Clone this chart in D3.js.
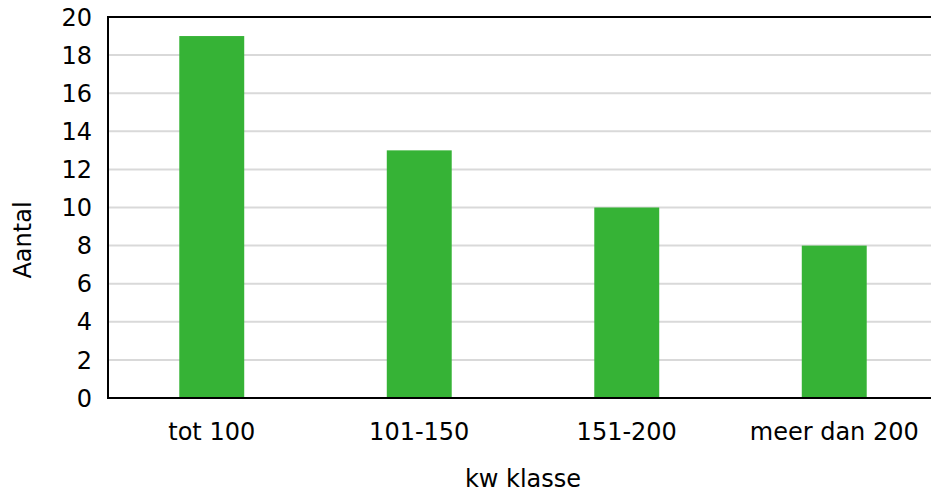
<!DOCTYPE html>
<html>
<head>
<meta charset="utf-8">
<script src="https://cdn.jsdelivr.net/npm/d3@7"></script>
<style>
  body { margin: 0; background: #fff; }
  svg text { font-family: "DejaVu Sans", Verdana, sans-serif; fill: #000; }
</style>
</head>
<body>
<div id="chart"></div>
<script>
var categories = ["tot 100", "101-150", "151-200", "meer dan 200"];
var values = [19, 13, 10, 8];
var yTicks = [0, 2, 4, 6, 8, 10, 12, 14, 16, 18, 20];

var width = 931, height = 493;
var plotLeft = 108, plotRight = 938, plotTop = 17, plotBottom = 398;

var svg = d3.select("#chart").append("svg")
  .attr("width", width).attr("height", height);

var x = d3.scaleBand().domain(categories).range([plotLeft, plotRight]).paddingInner(0.687).paddingOuter(0.3435);
var y = d3.scaleLinear().domain([0, 20]).range([plotBottom, plotTop]);

// gridlines
svg.append("g").selectAll("line")
  .data(yTicks.filter(function(d) { return d > 0 && d < 20; }))
  .enter().append("line")
  .attr("x1", plotLeft).attr("x2", width)
  .attr("y1", function(d) { return y(d); })
  .attr("y2", function(d) { return y(d); })
  .attr("stroke", "#d9d9d9").attr("stroke-width", 2);

// bars
svg.append("g").selectAll("rect")
  .data(values)
  .enter().append("rect")
  .attr("x", function(d, i) { return x(categories[i]); })
  .attr("width", x.bandwidth())
  .attr("y", function(d) { return y(d); })
  .attr("height", function(d) { return y(0) - y(d); })
  .attr("fill", "#36b336");

// frame
svg.append("line").attr("x1", plotLeft).attr("x2", width).attr("y1", plotTop).attr("y2", plotTop)
  .attr("stroke", "#000").attr("stroke-width", 2);
svg.append("line").attr("x1", plotLeft).attr("x2", width).attr("y1", plotBottom).attr("y2", plotBottom)
  .attr("stroke", "#000").attr("stroke-width", 2);
svg.append("line").attr("x1", plotLeft).attr("x2", plotLeft).attr("y1", plotTop - 1).attr("y2", plotBottom + 1)
  .attr("stroke", "#000").attr("stroke-width", 2);

// y tick labels
svg.append("g").selectAll("text")
  .data(yTicks)
  .enter().append("text")
  .attr("x", 92)
  .attr("y", function(d) { return y(d); })
  .attr("dy", "0.36em")
  .attr("text-anchor", "end")
  .style("font-size", "24px")
  .text(function(d) { return d; });

// x tick labels
svg.append("g").selectAll("text")
  .data(categories)
  .enter().append("text")
  .attr("x", function(d) { return x(d) + x.bandwidth() / 2; })
  .attr("y", 440)
  .attr("text-anchor", "middle")
  .style("font-size", "24px")
  .text(function(d) { return d; });

// axis titles
svg.append("text")
  .attr("x", 523).attr("y", 487)
  .attr("text-anchor", "middle")
  .style("font-size", "24px")
  .text("kw klasse");

svg.append("text")
  .attr("transform", "translate(31,240) rotate(-90)")
  .attr("text-anchor", "middle")
  .style("font-size", "24px")
  .text("Aantal");
</script>
</body>
</html>
